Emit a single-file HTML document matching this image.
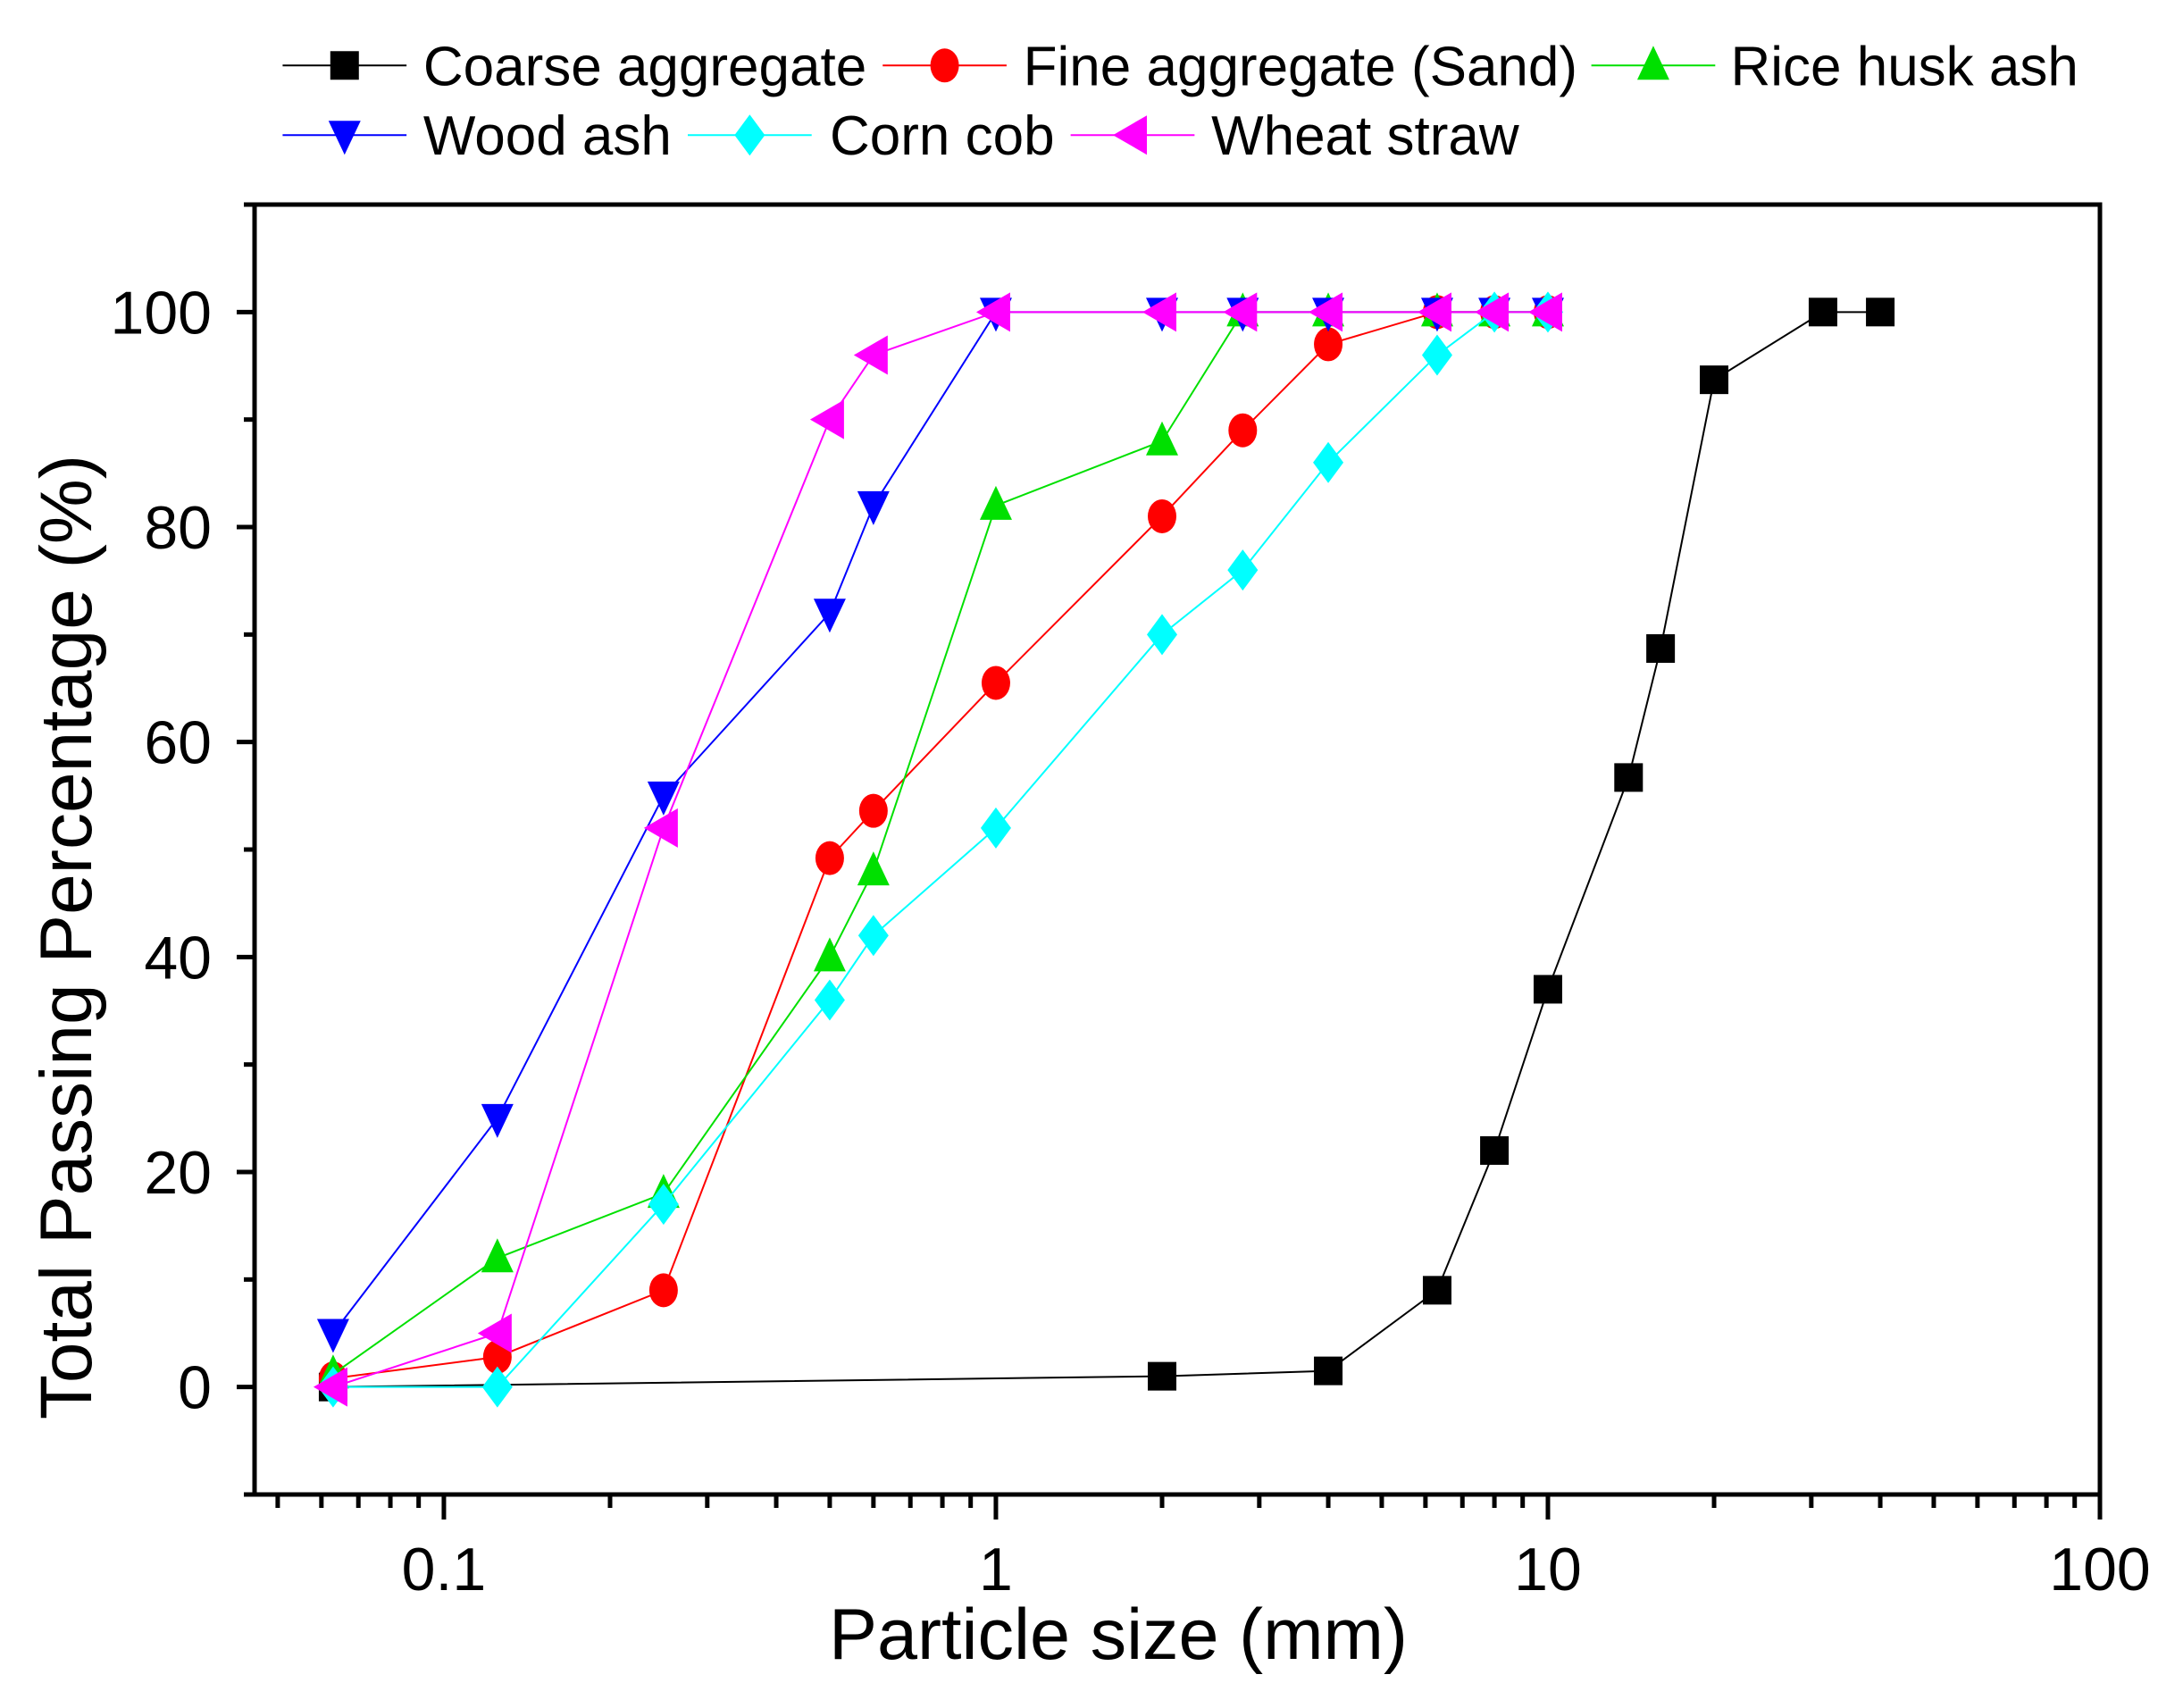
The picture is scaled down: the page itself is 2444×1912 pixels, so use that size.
<!DOCTYPE html>
<html><head><meta charset="utf-8"><style>
html,body{margin:0;padding:0;background:#fff;}
svg{display:block;font-family:"Liberation Sans",Arial,sans-serif;}
</style></head><body>
<svg id="chart" width="2444" height="1912" viewBox="0 0 2444 1912" xmlns="http://www.w3.org/2000/svg">
<g id="legend"></g>
<g id="axes"></g>
<g id="series"></g>
</svg>
<script>
const sieveX = [0.063, 0.125, 0.25, 0.5, 0.6, 1, 2, 2.8, 4, 6.3, 8, 10];
const coarseX = [0.063, 2, 4, 6.3, 8, 10, 14, 16, 20, 31.5, 40];
const coarseY = [0, 1, 1.5, 9, 22, 37, 56.7, 68.7, 93.7, 100, 100];
const sandY = [0.8, 2.8, 9, 49.2, 53.6, 65.5, 81, 89, 97, 100, 100, 100];
const riceY = [1.2, 12, 18, 40, 48, 82, 88, 100, 100, 100, 100, 100];
const woodY = [5, 25, 55, 72, 82, 100, 100, 100, 100, 100, 100, 100];
const cornY = [0, 0, 17, 36, 42, 52, 70, 76, 86, 96, 100, 100];
const wheatY = [0, 5, 52, 90, 96, 100, 100, 100, 100, 100, 100, 100];
const yTicks = [0, 20, 40, 60, 80, 100];
const xTicks = [0.1, 1, 10, 100];
const xTickLabels = ["0.1", "1", "10", "100"];

const NS = "http://www.w3.org/2000/svg";
const L = 285, R = 2351, T = 229, B = 1673;
const xMin = Math.log10(0.0454), xMax = 2;
const yMin = -10, yMax = 110;
function sx(v){ return L + (Math.log10(v) - xMin) / (xMax - xMin) * (R - L); }
function sy(v){ return B - (v - yMin) / (yMax - yMin) * (B - T); }
function mk(tag, attrs, parent){
  const e = document.createElementNS(NS, tag);
  for (const k in attrs) e.setAttribute(k, attrs[k]);
  parent.appendChild(e);
  return e;
}
const axes = document.getElementById('axes');
const seriesG = document.getElementById('series');
const legend = document.getElementById('legend');

const frame = mk('rect', {x:L, y:T, width:R-L, height:B-T, fill:'none', stroke:'#000', 'stroke-width':5}, axes);



for (let v = -10; v <= 110; v += 10) {
  const major = yTicks.indexOf(v) >= 0;
  const t = mk('line', {x1:L, x2:L-(major?20:12), y1:sy(v), y2:sy(v), stroke:'#000', 'stroke-width':5}, axes);
  
  
}
yTicks.forEach(v => {
  const t = mk('text', {x:237, y:sy(v)+24, 'text-anchor':'end', 'font-size':68}, axes);
  t.textContent = v;
  
  
});
for (let d = -2; d <= 1; d++) {
  for (let m = 1; m <= 9; m++) {
    const v = m * Math.pow(10, d);
    if (v < 0.0454 || v > 100) continue;
    const t = mk('line', {x1:sx(v), x2:sx(v), y1:B, y2:B+(m===1?28:15), stroke:'#000', 'stroke-width':5}, axes);
    
    
  }
}
{ const t = mk('line', {x1:sx(100), x2:sx(100), y1:B, y2:B+28, stroke:'#000', 'stroke-width':5}, axes);
  
   }
xTicks.forEach((v, i) => {
  const t = mk('text', {x:sx(v), y:1780, 'text-anchor':'middle', 'font-size':68}, axes);
  t.textContent = xTickLabels[i];
  
  
});
const xt = mk('text', {x:1252, y:1857, 'text-anchor':'middle', 'font-size':81}, axes);
xt.textContent = 'Particle size (mm)';


const yt = mk('text', {x:0, y:0, 'text-anchor':'middle', 'font-size':82, transform:'translate(102,1049) rotate(-90)'}, axes);
yt.textContent = 'Total Passing Percentage (%)';



function marker(type, cx, cy, color, parent){
  const s = 20;
  let e;
  if (type === 'square') e = mk('rect', {x:cx-s+4, y:cy-s+4, width:2*s-8, height:2*s-8, fill:color}, parent);
  else if (type === 'circle') e = mk('ellipse', {cx:cx, cy:cy, rx:s-4, ry:s-1, fill:color}, parent);
  else if (type === 'up') e = mk('polygon', {points:`${cx},${cy-s-2} ${cx+s-2},${cy+s-4} ${cx-s+2},${cy+s-4}`, fill:color}, parent);
  else if (type === 'down') e = mk('polygon', {points:`${cx-s+2},${cy-s+4} ${cx+s-2},${cy-s+4} ${cx},${cy+s+2}`, fill:color}, parent);
  else if (type === 'diamond') e = mk('polygon', {points:`${cx},${cy-s-3} ${cx+s-3},${cy} ${cx},${cy+s+3} ${cx-s+3},${cy}`, fill:color}, parent);
  else e = mk('polygon', {points:`${cx-s-2},${cy} ${cx+s-4},${cy-s-2} ${cx+s-4},${cy+s+2}`, fill:color}, parent);
  return e;
}

const seriesDefs = [
  {name:'Coarse aggregate', key:'coarse', xs:coarseX, ys:coarseY, color:'#000000', m:'square', lx:203, ly:47, tx:304},
  {name:'Fine aggregate (Sand)', key:'sand', xs:sieveX, ys:sandY, color:'#ff0000', m:'circle', lx:634, ly:47, tx:735},
  {name:'Rice husk ash', key:'rice-husk-ash', xs:sieveX, ys:riceY, color:'#00e000', m:'up', lx:1143, ly:47, tx:1243},
  {name:'Wood ash', key:'wood-ash', xs:sieveX, ys:woodY, color:'#0000ff', m:'down', lx:203, ly:97, tx:304},
  {name:'Corn cob', key:'corn-cob', xs:sieveX, ys:cornY, color:'#00ffff', m:'diamond', lx:494, ly:97, tx:596},
  {name:'Wheat straw', key:'wheat-straw', xs:sieveX, ys:wheatY, color:'#ff00ff', m:'left', lx:769, ly:97, tx:870}
];
const k = 1.5587;
seriesDefs.forEach(s => {
  const g = mk('g', {}, seriesG);
  
  
  const pts = s.xs.map((x, i) => sx(x) + ',' + sy(s.ys[i])).join(' ');
  const pl = mk('polyline', {points:pts, fill:'none', stroke:s.color, 'stroke-width':2}, g);
  
  
  s.xs.forEach((x, i) => {
    const m = marker(s.m, sx(x), sy(s.ys[i]), s.color, g);
    
    
  });
  const lg = mk('g', {}, legend);
  
  
  const y = s.ly * k, x1 = s.lx * k, x2 = (s.lx + 89) * k;
  mk('line', {x1:x1, x2:x2, y1:y, y2:y, stroke:s.color, 'stroke-width':2}, lg);
  marker(s.m, (x1 + x2) / 2, y, s.color, lg);
  const t = mk('text', {x:s.tx * k, y:y + 22, 'font-size':62}, lg);
  t.textContent = s.name;
});
</script>
</body></html>
